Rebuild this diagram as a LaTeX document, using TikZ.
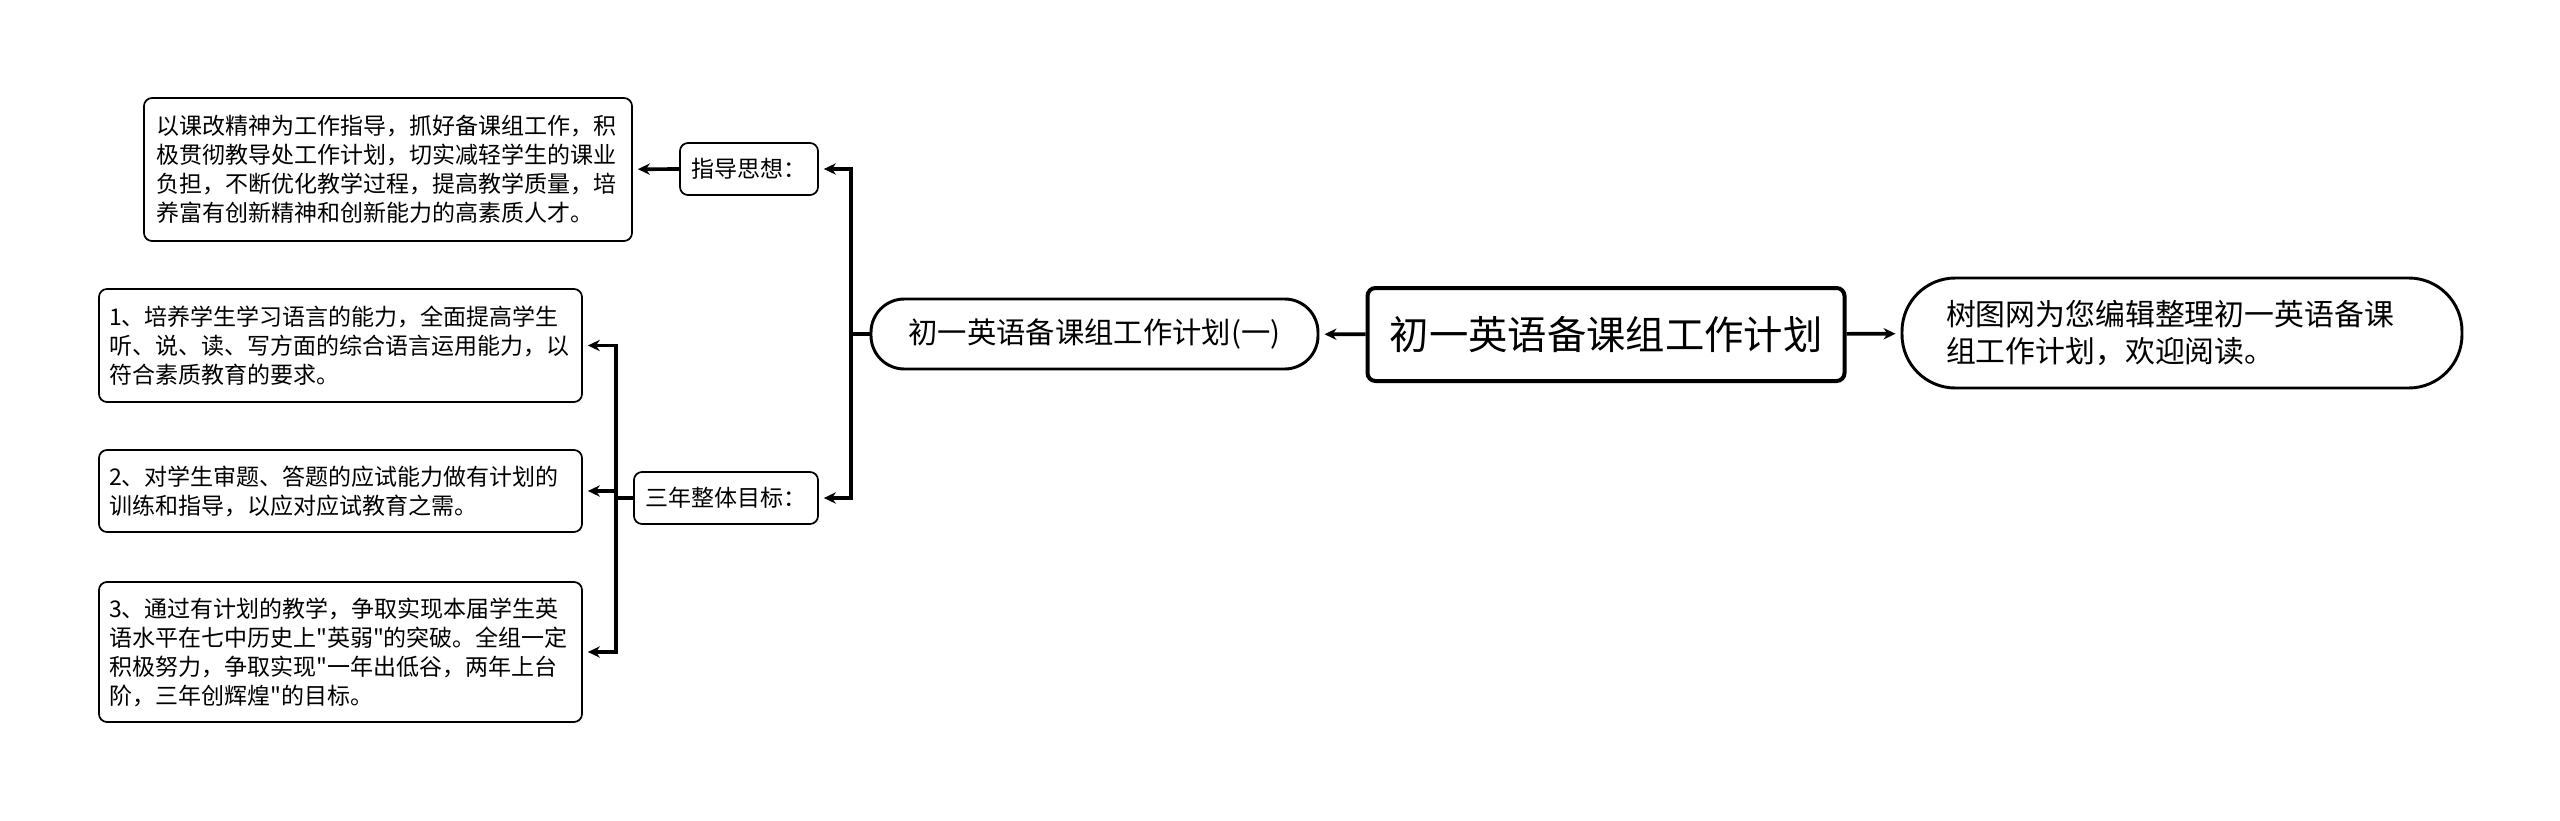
\documentclass[tikz,border=0pt]{standalone}
\usepackage{fontspec}
\newfontfamily\cjk{Noto Sans CJK SC}
\usetikzlibrary{arrows.meta}

\begin{document}
\begin{tikzpicture}[x=0.75pt, y=-0.75pt,
  box/.style={draw, line width=1.3pt, rounded corners=6pt, align=left, inner xsep=0pt, inner ysep=0pt,
    font=\cjk\fontsize{17.25}{21.75}\selectfont},
  leaf/.style={box, text width=347pt, minimum width=362.25pt},
  tag/.style={box, align=center, minimum height=39pt},
  line/.style={line width=2.8pt},
  arr/.style={line, -{Stealth[length=9pt, width=8.5pt]}, shorten >=3.75pt}]
\fill[white] (0,0) rectangle (2560,821);
\useasboundingbox (0,0) rectangle (2560,821);

% root and the two sides
\node[box, line width=3pt, align=center, minimum width=357.75pt, minimum height=69.75pt,
  font=\cjk\fontsize{29.5}{36}\selectfont] (main) at (1606,334.5) {初一英语备课组工作计划};
\node[box, line width=2.2pt, rounded corners=25pt, align=center, minimum width=335.25pt, minimum height=52.5pt,
  font=\cjk\fontsize{22}{27}\selectfont] (part1) at (1094.5,334) {初一英语备课组工作计划(一)};
\node[box, line width=2.2pt, rounded corners=40pt, text width=354pt, minimum width=420pt, minimum height=82.5pt,
  font=\cjk\fontsize{22.4}{27.75}\selectfont] (note) at (2182,333)
  {树图网为您编辑整理初一英语备课\\组工作计划，欢迎阅读。};

% second level
\node[tag, minimum width=103.5pt] (guide) at (749,169) {指导思想：};
\node[tag, minimum width=138pt] (goal) at (726,498) {三年整体目标：};

% leaves
\node[box, text width=347pt, minimum width=366pt, minimum height=107.25pt] (guidetext) at (388,169.5)
  {以课改精神为工作指导，抓好备课组工作，积\\极贯彻教导处工作计划，切实减轻学生的课业\\负担，不断优化教学过程，提高教学质量，培\\养富有创新精神和创新能力的高素质人才。};
\node[leaf, minimum height=84.75pt] (goal1) at (340.5,345.5)
  {1、培养学生学习语言的能力，全面提高学生\\听、说、读、写方面的综合语言运用能力，以\\符合素质教育的要求。};
\node[leaf, minimum height=61.5pt] (goal2) at (340.5,491)
  {2、对学生审题、答题的应试能力做有计划的\\训练和指导，以应对应试教育之需。};
\node[leaf, minimum height=105pt] (goal3) at (340.5,652)
  {3、通过有计划的教学，争取实现本届学生英\\语水平在七中历史上"英弱"的突破。全组一定\\积极努力，争取实现"一年出低谷，两年上台\\阶，三年创辉煌"的目标。};

\coordinate (j1) at (851,334);
\coordinate (j2) at (616,498);

\draw[arr] (main) -- (part1);
\draw[arr] (main) -- (note);
\draw[line] (part1) -- (j1);
\draw[arr] (j1) |- (guide);
\draw[arr] (j1) |- (goal);
\draw[arr] (guide) -- (guidetext);
\draw[line] (goal) -- (j2);
\draw[arr] (j2) |- (goal1);
\draw[arr] (j2) |- (goal2);
\draw[arr] (j2) |- (goal3);
\end{tikzpicture}
\end{document}
